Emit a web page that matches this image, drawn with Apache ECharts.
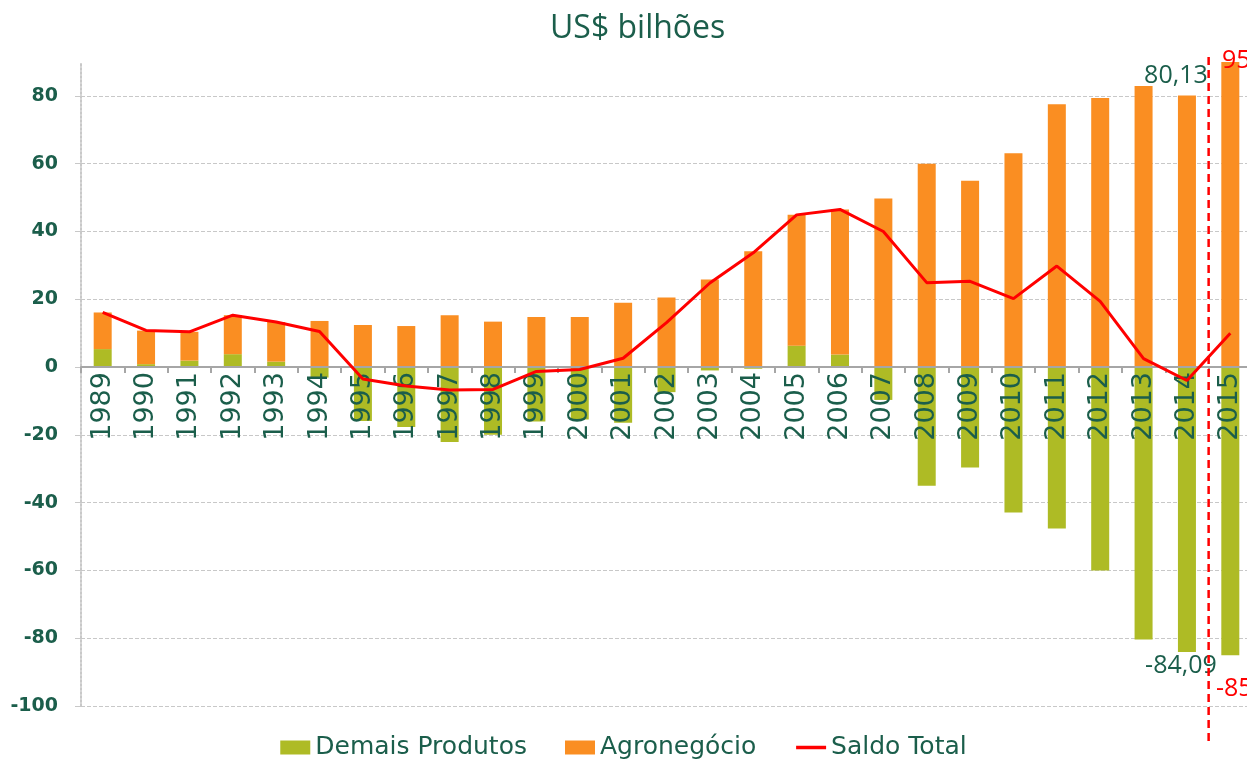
<!DOCTYPE html>
<html>
<head>
<meta charset="utf-8">
<title>US$ bilhões</title>
<script src="https://cdn.jsdelivr.net/npm/echarts@6/dist/echarts.min.js"></script>
<style>
  html, body { margin: 0; padding: 0; background: #fff; }
  #chart { width: 1247px; height: 766px; }
</style>
</head>
<body>
<div id="chart"></div>
<script>
// anos
var years = ['1989', '1990', '1991', '1992', '1993', '1994', '1995', '1996', '1997', '1998',
  '1999', '2000', '2001', '2002', '2003', '2004', '2005', '2006', '2007', '2008',
  '2009', '2010', '2011', '2012', '2013', '2014', '2015'];

// saldo do agronegócio
var agro = [10.8, 9.9, 8.5, 11.5, 11.7, 13.6, 12.4, 12.1, 15.3, 13.4,
  14.8, 14.8, 19.0, 20.5, 25.8, 34.2, 38.6, 42.8, 49.7, 60.0,
  55.0, 63.1, 77.5, 79.4, 82.9, 80.13, 95];

// saldo dos demais produtos
var demais = [5.3, 0.85, 1.9, 3.8, 1.6, -3.1, -15.9, -17.7, -22.1, -20.0,
  -16.1, -15.5, -16.4, -7.4, -1.0, -0.5, 6.3, 3.7, -9.7, -35.0,
  -29.6, -42.9, -47.6, -60.0, -80.4, -84.09, -85];

// saldo total
var saldo = [16.1, 10.8, 10.4, 15.3, 13.3, 10.5, -3.5, -5.6, -6.8, -6.6,
  -1.3, -0.7, 2.6, 13.1, 24.8, 33.7, 44.9, 46.5, 40.0, 24.9,
  25.3, 20.2, 29.8, 19.4, 2.5, -3.96, 10];

var yTicks = { min: -100, max: 90, interval: 20 };

var darkGreen = '#1b5e4b';
var green = '#aebb25';
var orange = '#fa8e22';
var red = '#ff0000';

// rótulos especiais (2014 e 2015)
function agroData() {
  return agro.map(function (v, i) {
    if (years[i] === '2014') {
      return { value: v, label: { show: true, position: 'top', formatter: '80,13', color: darkGreen,
        fontFamily: 'Open Sans', fontSize: 25, offset: [-11, -2] } };
    }
    if (years[i] === '2015') {
      return { value: v, label: { show: true, position: 'top', formatter: '95', color: red,
        fontFamily: 'Open Sans', fontSize: 25, offset: [6, 16] } };
    }
    return v;
  });
}

function demaisData() {
  return demais.map(function (v, i) {
    if (years[i] === '2014') {
      return { value: v, label: { show: true, position: 'bottom', formatter: '-84,09', color: darkGreen,
        fontFamily: 'Open Sans', fontSize: 25, offset: [-6, -4] } };
    }
    if (years[i] === '2015') {
      return { value: v, label: { show: true, position: 'bottom', formatter: '-85', color: red,
        fontFamily: 'Open Sans', fontSize: 25, offset: [4, 16] } };
    }
    return v;
  });
}

var chart = echarts.init(document.getElementById('chart'));

var option = {
  animation: false,
  title: {
    text: 'US$ bilhões',
    left: 545,
    top: 8,
    textStyle: { fontFamily: 'Open Sans', fontSize: 32, fontWeight: 'normal', color: darkGreen }
  },
  legend: {
    bottom: 1,
    left: 'center',
    itemGap: 38,
    itemWidth: 30,
    itemHeight: 14,
    textStyle: { fontFamily: 'DejaVu Sans', fontSize: 25, color: darkGreen },
    data: [
      { name: 'Demais Produtos', icon: 'rect' },
      { name: 'Agronegócio', icon: 'rect' },
      { name: 'Saldo Total', lineStyle: { width: 3.5 },
        itemStyle: { color: 'rgba(0,0,0,0)', borderColor: 'rgba(0,0,0,0)', borderWidth: 0 } }
    ]
  },
  grid: { left: 81, top: 62, width: 1171, height: 644, outerBoundsMode: 'none', containLabel: false },
  xAxis: {
    type: 'category',
    data: years,
    z: 10,
    axisLine: { onZero: false, lineStyle: { color: '#a6a6a6', width: 2 } },
    axisTick: { show: true, alignWithLabel: false, length: 6, lineStyle: { color: '#a6a6a6', width: 2 } },
    axisLabel: { rotate: 90, margin: 5, color: darkGreen, fontFamily: 'DejaVu Sans', fontSize: 27 }
  },
  yAxis: {
    type: 'value',
    min: yTicks.min,
    max: yTicks.max,
    interval: yTicks.interval,
    axisLine: { show: true, lineStyle: { color: '#c8c8c8', width: 2, type: 'dotted' } },
    axisTick: { show: true, length: 6, lineStyle: { color: '#c8c8c8' } },
    axisLabel: { showMaxLabel: false, margin: 23, color: darkGreen, fontFamily: 'DejaVu Sans',
      fontWeight: 'bold', fontSize: 19 },
    splitLine: { showMaxLine: false, lineStyle: { color: '#c8c8c8', type: 'dashed', width: 1 } }
  },
  series: [
    {
      name: 'Demais Produtos',
      type: 'bar',
      stack: 'saldo',
      barWidth: 18,
      itemStyle: { color: green },
      data: demaisData()
    },
    {
      name: 'Agronegócio',
      type: 'bar',
      stack: 'saldo',
      barWidth: 18,
      itemStyle: { color: orange },
      data: agroData()
    },
    {
      name: 'Saldo Total',
      type: 'line',
      symbol: 'none',
      z: 15,
      lineStyle: { color: red, width: 3 },
      itemStyle: { color: red },
      data: saldo
    }
  ]
};

chart.setOption(option);

// eixo x posicionado no zero (rótulos logo abaixo da linha do zero)
var yZero = chart.convertToPixel({ yAxisIndex: 0 }, 0);
var yBottom = chart.convertToPixel({ yAxisIndex: 0 }, yTicks.min);

// linha tracejada entre 2014 e 2015
var x14 = chart.convertToPixel({ xAxisIndex: 0 }, '2014');
var x15 = chart.convertToPixel({ xAxisIndex: 0 }, '2015');
var xSep = (x14 + x15) / 2;

chart.setOption({
  xAxis: { offset: yZero - yBottom },
  graphic: [{
    type: 'line',
    z: 20,
    shape: { x1: xSep, y1: 57, x2: xSep, y2: 745 },
    style: { stroke: red, lineWidth: 2.5, lineDash: [8, 5] }
  }]
});
</script>
</body>
</html>
